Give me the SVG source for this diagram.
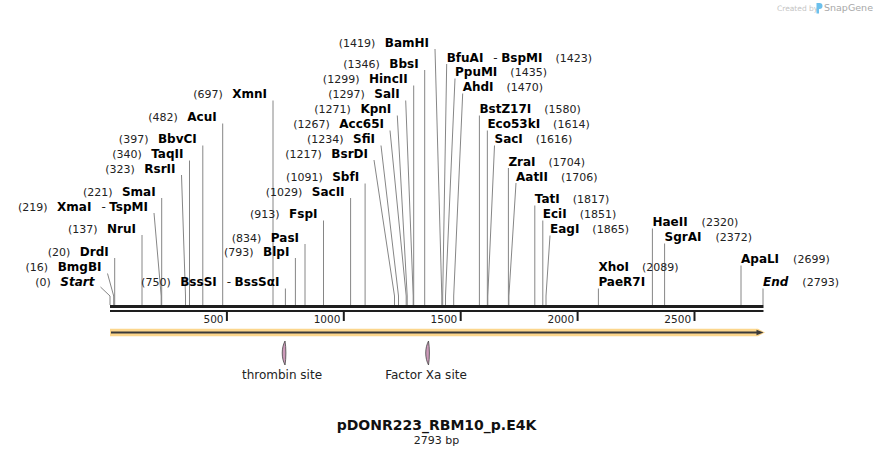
<svg xmlns="http://www.w3.org/2000/svg" width="874" height="456" viewBox="0 0 874 456">
<style>
text{font-family:"DejaVu Sans",Verdana,sans-serif;}
.n{font-size:11px;fill:#222;}
.b{font-size:12px;font-weight:bold;fill:#000;}
.d{font-size:12px;fill:#222;}
.i{font-style:italic;}
.t{font-size:10.5px;fill:#222;}
.ln{stroke:#868686;stroke-width:1;fill:none;}
.tk{stroke:#1e1e1e;stroke-width:2;}
.site{fill:#cc9ab9;stroke:#444;stroke-width:0.8;}
.fl{font-size:12px;fill:#222;}
</style>
<rect width="874" height="456" fill="#fff"/>

<g id="snapgene-credit">
<text x="777" y="10.5" style="font-size:7.5px;fill:#c4c4c4">Created by</text>
<path d="M816.5,3 h3 a3,3 0 0 1 0,6 h-0.5 v4.5 h-2.5 z" fill="#6cc0ec"/>
<text x="824" y="11" style="font-size:9.5px;fill:#a8a8a8">SnapGene</text>
</g>

<g id="backbone">
<rect x="110" y="305" width="653.5" height="3" fill="#1e1e1e"/>
<rect x="110" y="310" width="653.5" height="2" fill="#1e1e1e"/>
</g>

<g id="axis">
<line class="tk" x1="226.9" y1="312" x2="226.9" y2="321"/>
<line class="tk" x1="343.8" y1="312" x2="343.8" y2="321"/>
<line class="tk" x1="460.7" y1="312" x2="460.7" y2="321"/>
<line class="tk" x1="577.6" y1="312" x2="577.6" y2="321"/>
<line class="tk" x1="694.5" y1="312" x2="694.5" y2="321"/>
<text class="t" x="223.5" y="322.5" text-anchor="end">500</text>
<text class="t" x="340.4" y="322.5" text-anchor="end">1000</text>
<text class="t" x="457.3" y="322.5" text-anchor="end">1500</text>
<text class="t" x="574.2" y="322.5" text-anchor="end">2000</text>
<text class="t" x="691.1" y="322.5" text-anchor="end">2500</text>
</g>

<g id="feature-orf">
<path d="M110,328.8 L758,328.8 L765,332.5 L758,336.2 L110,336.2 Z" fill="#fcd68c"/>
<line x1="111" y1="332.5" x2="758" y2="332.5" stroke="#3a3a3a" stroke-width="1.8"/>
<path d="M756.5,329.8 L763.5,332.5 L756.5,335.2 Z" fill="#3a3a3a"/>
</g>

<g id="thrombin-site">
<path class="site" d="M285,341 C281.3,348 281.3,358 285,365 C286.2,358 286.2,348 285,341 Z"/>
<text class="fl" x="282" y="379" text-anchor="middle">thrombin site</text>
</g>
<g id="factor-xa-site">
<path class="site" d="M428.5,341 C424.8,348 424.8,358 428.5,365 C429.7,358 429.7,348 428.5,341 Z"/>
<text class="fl" x="426" y="379" text-anchor="middle">Factor Xa site</text>
</g>

<g id="connectors">
<path class="ln" d="M100.5,287 L110,296 V305"/>
<path class="ln" d="M107.5,273.5 L113.7,296 V305"/>
<path class="ln" d="M114.7,258 V305"/>
<path class="ln" d="M142,235 V305"/>
<path class="ln" d="M154,213 L161.2,296 V305"/>
<path class="ln" d="M161.7,198 V305"/>
<path class="ln" d="M181.5,175 L185.5,296 V305"/>
<path class="ln" d="M189.5,160.5 V305"/>
<path class="ln" d="M202.8,145.5 V305"/>
<path class="ln" d="M222.7,123.5 V305"/>
<path class="ln" d="M273,100.5 V305"/>
<path class="ln" d="M285.4,288.5 V305"/>
<path class="ln" d="M295.4,258 V305"/>
<path class="ln" d="M305,244 V305"/>
<path class="ln" d="M323.5,220.5 V305"/>
<path class="ln" d="M350.6,198 V305"/>
<path class="ln" d="M365.1,183.5 V305"/>
<path class="ln" d="M374,160 L394.5,296 V305"/>
<path class="ln" d="M381,145.5 L398.5,296 V305"/>
<path class="ln" d="M390,130.5 L406.2,296 V305"/>
<path class="ln" d="M397.3,115.5 L407.2,296 V305"/>
<path class="ln" d="M405.7,100.5 L413.2,296 V305"/>
<path class="ln" d="M413.7,85.5 V305"/>
<path class="ln" d="M424.7,70 V305"/>
<path class="ln" d="M435,49 L441.8,296 V305"/>
<path class="ln" d="M446.7,64 L442.7,296 V305"/>
<path class="ln" d="M455,78.5 L445.5,296 V305"/>
<path class="ln" d="M462.7,93.5 L453.7,296 V305"/>
<path class="ln" d="M479.4,115.5 V305"/>
<path class="ln" d="M487.35,130.5 V305"/>
<path class="ln" d="M494.5,145.5 L487.8,296 V305"/>
<path class="ln" d="M508.4,168 V305"/>
<path class="ln" d="M516,183 L508.9,296 V305"/>
<path class="ln" d="M534.8,205.5 V305"/>
<path class="ln" d="M542.8,220.5 V305"/>
<path class="ln" d="M550,235.5 L546,296 V305"/>
<path class="ln" d="M598.4,288.5 V305"/>
<path class="ln" d="M652.4,228.5 V305"/>
<path class="ln" d="M664.6,243.5 V305"/>
<path class="ln" d="M741,265.5 V305"/>
<path class="ln" d="M763,288.5 V305"/>
</g>

<g id="label-start"><text x="94.5" y="286" text-anchor="end"><tspan class="n">(0)</tspan><tspan class="b i" dx="9.5">Start</tspan></text></g>
<g id="label-bmgbi"><text x="101.5" y="271" text-anchor="end"><tspan class="n">(16)</tspan><tspan class="b" dx="9.5">BmgBI</tspan></text></g>
<g id="label-drdi"><text x="108.7" y="255.5" text-anchor="end"><tspan class="n">(20)</tspan><tspan class="b" dx="9.5">DrdI</tspan></text></g>
<g id="label-srui"><text x="136" y="232.5" text-anchor="end"><tspan class="n">(137)</tspan><tspan class="b" dx="9.5">NruI</tspan></text></g>
<g id="label-xmai"><text x="148" y="210.5" text-anchor="end"><tspan class="n">(219)</tspan><tspan class="b" dx="9.5">XmaI</tspan><tspan class="d" dx="10">-</tspan><tspan class="b" dx="3.5">TspMI</tspan></text></g>
<g id="label-smai"><text x="155.7" y="195.5" text-anchor="end"><tspan class="n">(221)</tspan><tspan class="b" dx="9.5">SmaI</tspan></text></g>
<g id="label-rsrii"><text x="175.5" y="172.5" text-anchor="end"><tspan class="n">(323)</tspan><tspan class="b" dx="9.5">RsrII</tspan></text></g>
<g id="label-taqii"><text x="183.5" y="158" text-anchor="end"><tspan class="n">(340)</tspan><tspan class="b" dx="9.5">TaqII</tspan></text></g>
<g id="label-bbvci"><text x="196.8" y="143" text-anchor="end"><tspan class="n">(397)</tspan><tspan class="b" dx="9.5">BbvCI</tspan></text></g>
<g id="label-acui"><text x="216.7" y="121" text-anchor="end"><tspan class="n">(482)</tspan><tspan class="b" dx="9.5">AcuI</tspan></text></g>
<g id="label-xmni"><text x="267" y="98" text-anchor="end"><tspan class="n">(697)</tspan><tspan class="b" dx="9.5">XmnI</tspan></text></g>
<g id="label-bsssi"><text x="279.4" y="286" text-anchor="end"><tspan class="n">(750)</tspan><tspan class="b" dx="9.5">BssSI</tspan><tspan class="d" dx="10">-</tspan><tspan class="b" dx="3.5">BssSαI</tspan></text></g>
<g id="label-blpi"><text x="289.4" y="255.5" text-anchor="end"><tspan class="n">(793)</tspan><tspan class="b" dx="9.5">BlpI</tspan></text></g>
<g id="label-pasi"><text x="299" y="241.5" text-anchor="end"><tspan class="n">(834)</tspan><tspan class="b" dx="9.5">PasI</tspan></text></g>
<g id="label-fspi"><text x="317.5" y="218" text-anchor="end"><tspan class="n">(913)</tspan><tspan class="b" dx="9.5">FspI</tspan></text></g>
<g id="label-sacii"><text x="344.6" y="195.5" text-anchor="end"><tspan class="n">(1029)</tspan><tspan class="b" dx="9.5">SacII</tspan></text></g>
<g id="label-sbfi"><text x="359.1" y="181" text-anchor="end"><tspan class="n">(1091)</tspan><tspan class="b" dx="9.5">SbfI</tspan></text></g>
<g id="label-bsrdi"><text x="368" y="157.5" text-anchor="end"><tspan class="n">(1217)</tspan><tspan class="b" dx="9.5">BsrDI</tspan></text></g>
<g id="label-sfii"><text x="375" y="143" text-anchor="end"><tspan class="n">(1234)</tspan><tspan class="b" dx="9.5">SfiI</tspan></text></g>
<g id="label-acc65i"><text x="384" y="128" text-anchor="end"><tspan class="n">(1267)</tspan><tspan class="b" dx="9.5">Acc65I</tspan></text></g>
<g id="label-kpni"><text x="391.3" y="113" text-anchor="end"><tspan class="n">(1271)</tspan><tspan class="b" dx="9.5">KpnI</tspan></text></g>
<g id="label-sali"><text x="399.7" y="98" text-anchor="end"><tspan class="n">(1297)</tspan><tspan class="b" dx="9.5">SalI</tspan></text></g>
<g id="label-hincii"><text x="407.7" y="83" text-anchor="end"><tspan class="n">(1299)</tspan><tspan class="b" dx="9.5">HincII</tspan></text></g>
<g id="label-bbsi"><text x="418.7" y="67.5" text-anchor="end"><tspan class="n">(1346)</tspan><tspan class="b" dx="9.5">BbsI</tspan></text></g>
<g id="label-bamhi"><text x="429" y="46.5" text-anchor="end"><tspan class="n">(1419)</tspan><tspan class="b" dx="9.5">BamHI</tspan></text></g>

<g id="label-bfuai"><text x="446.7" y="61.5"><tspan class="b">BfuAI</tspan><tspan class="d" dx="10">-</tspan><tspan class="b" dx="3.5">BspMI</tspan><tspan class="n" dx="13">(1423)</tspan></text></g>
<g id="label-ppumi"><text x="455" y="76"><tspan class="b">PpuMI</tspan><tspan class="n" dx="13">(1435)</tspan></text></g>
<g id="label-ahdi"><text x="462.7" y="91"><tspan class="b">AhdI</tspan><tspan class="n" dx="13">(1470)</tspan></text></g>
<g id="label-bstz17i"><text x="479.4" y="113"><tspan class="b">BstZ17I</tspan><tspan class="n" dx="13">(1580)</tspan></text></g>
<g id="label-eco53ki"><text x="487.4" y="128"><tspan class="b">Eco53kI</tspan><tspan class="n" dx="13">(1614)</tspan></text></g>
<g id="label-saci"><text x="494.5" y="143"><tspan class="b">SacI</tspan><tspan class="n" dx="13">(1616)</tspan></text></g>
<g id="label-zrai"><text x="508.4" y="165.5"><tspan class="b">ZraI</tspan><tspan class="n" dx="13">(1704)</tspan></text></g>
<g id="label-aatii"><text x="516" y="180.5"><tspan class="b">AatII</tspan><tspan class="n" dx="13">(1706)</tspan></text></g>
<g id="label-tati"><text x="534.8" y="203"><tspan class="b">TatI</tspan><tspan class="n" dx="13">(1817)</tspan></text></g>
<g id="label-ecii"><text x="542.8" y="218"><tspan class="b">EciI</tspan><tspan class="n" dx="13">(1851)</tspan></text></g>
<g id="label-eagi"><text x="550" y="233"><tspan class="b">EagI</tspan><tspan class="n" dx="13">(1865)</tspan></text></g>
<g id="label-xhoi"><text x="598.4" y="271"><tspan class="b">XhoI</tspan><tspan class="n" dx="13">(2089)</tspan></text><text class="b" x="598.4" y="286">PaeR7I</text></g>
<g id="label-haeii"><text x="652.4" y="226"><tspan class="b">HaeII</tspan><tspan class="n" dx="14">(2320)</tspan></text></g>
<g id="label-sgrai"><text x="664.6" y="241"><tspan class="b">SgrAI</tspan><tspan class="n" dx="14">(2372)</tspan></text></g>
<g id="label-apali"><text x="741" y="263"><tspan class="b">ApaLI</tspan><tspan class="n" dx="14">(2699)</tspan></text></g>
<g id="label-end"><text x="763" y="286"><tspan class="b i">End</tspan><tspan class="n" dx="14">(2793)</tspan></text></g>

<g id="title">
<text x="436.5" y="430" text-anchor="middle" style="font-size:14px;font-weight:bold;fill:#111">pDONR223_RBM10_p.E4K</text>
<text x="436.5" y="443.5" text-anchor="middle" style="font-size:11px;fill:#222">2793 bp</text>
</g>
</svg>
